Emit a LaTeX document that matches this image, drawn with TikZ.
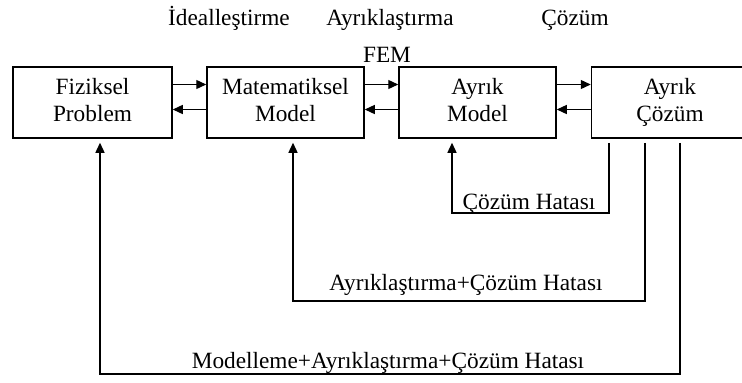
\documentclass[tikz,border=0pt]{standalone}
\usepackage{fontspec}
\setmainfont{Liberation Serif}
\usepackage{tikz}
\usetikzlibrary{arrows.meta,positioning,calc}
\newcommand{\dfont}{\fontsize{23.3}{27}\selectfont}
\tikzset{
  fbox/.style={draw=black, line width=1.5pt, minimum width=157pt, minimum height=71pt, align=center, font=\dfont, inner sep=0pt},
  farrow/.style={-{Triangle[length=10pt,width=9pt]}, line width=1.3pt},
  flabel/.style={font=\dfont, inner sep=0pt, anchor=base},
}
\begin{document}
\begin{tikzpicture}[x=1pt,y=-1pt]
  \useasboundingbox (0,0) rectangle (742,383);
  \clip (0,0) rectangle (742,383);
  % stages
  \node[fbox, minimum width=159pt] (fp) at (92.5,102.5) {\strut Fiziksel\\\strut Problem};
  \node[fbox] (mm) at (285.5,102.5) {\strut Matematiksel\\\strut Model};
  \node[fbox] (am) at (477.5,102.5) {\strut Ayrık\\\strut Model};
  \node[fbox] (ac) at (670,102.5) {\strut Ayrık\\\strut Çözüm};
  % step names
  \node[flabel] (ideal) at (229,25) {İdealleştirme};
  \node[flabel] (ayrik) at (390,25) {Ayrıklaştırma};
  \node[flabel] (cozum) at (575,25) {Çözüm};
  \node[flabel] (fem) at (387,62) {FEM};
  % forward / backward arrows
  \draw[farrow] ([yshift=18pt]fp.east) -- ([yshift=18pt]mm.west);
  \draw[farrow] ([yshift=-7pt]mm.west) -- ([yshift=-7pt]fp.east);
  \draw[farrow] ([yshift=18pt]mm.east) -- ([yshift=18pt]am.west);
  \draw[farrow] ([yshift=-7pt]am.west) -- ([yshift=-7pt]mm.east);
  \draw[farrow] ([yshift=18pt]am.east) -- ([yshift=18pt]ac.west);
  \draw[farrow] ([yshift=-7pt]ac.west) -- ([yshift=-7pt]am.east);
  % error loops
  \coordinate (e1) at (609,213);
  \coordinate (e2) at (645,301);
  \coordinate (e3) at (680,374);
  \draw[farrow] ([xshift=-61pt,yshift=-4pt]ac.south) |- (e1) -| ([xshift=-25.5pt,yshift=-4pt]am.south);
  \draw[farrow] ([xshift=-25pt,yshift=-4pt]ac.south) |- (e2) -| ([xshift=7.5pt,yshift=-4pt]mm.south);
  \draw[farrow] ([xshift=10pt,yshift=-4pt]ac.south) |- (e3) -| ([xshift=7.5pt,yshift=-4pt]fp.south);
  \node[flabel] (err1) at (529,209) {Çözüm Hatası};
  \node[flabel] (err2) at (466,290) {Ayrıklaştırma+Çözüm Hatası};
  \node[flabel] (err3) at (388,368) {Modelleme+Ayrıklaştırma+Çözüm Hatası};
\end{tikzpicture}
\end{document}
